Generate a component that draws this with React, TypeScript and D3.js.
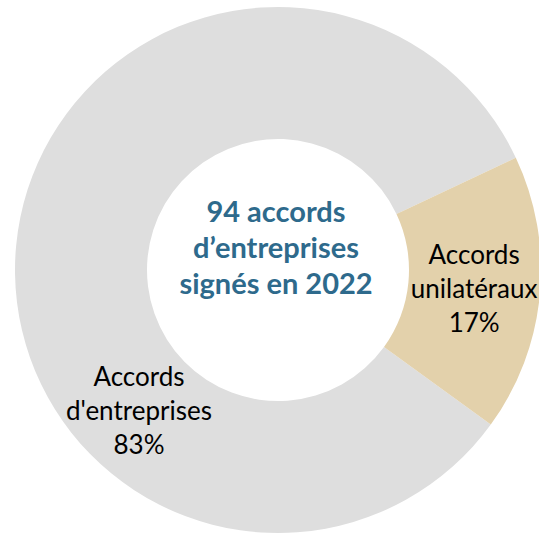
import React from "react";
import * as d3 from "d3";

const categories = ["Accords d'entreprises", "Accords unilatéraux"];
const values = [78, 16];
const percentLabels = ["83%", "17%"];
const labelLines = [["Accords", "d'entreprises", "83%"], ["Accords", "unilatéraux", "17%"]];
const centerLines = ["94 accords", "d’entreprises", "signés en 2022"];
const colors = ["#DEDEDE", "#E3D1AB"];

const W = 539;
const H = 533;
const cx = 278;
const cy = 270;
const outerR = 263;
const innerR = 131;
const startDeg = 126;

export default function App() {
  const pie = d3
    .pie<number>()
    .sort(null)
    .value((d) => d)
    .startAngle((startDeg * Math.PI) / 180)
    .endAngle(((startDeg + 360) * Math.PI) / 180);
  const arcs = pie(values);
  const arc = d3.arc<d3.PieArcDatum<number>>().innerRadius(innerR).outerRadius(outerR);

  const labelFont = "Lato, 'Open Sans', sans-serif";
  const lineH = 34;
  const uniC = arc.centroid(arcs[1]);
  const labelPos: [number, number][] = [
    [139 - cx, 420 - cy - 10],
    [uniC[0], uniC[1]],
  ];

  return (
    <svg
      width={W}
      height={H}
      style={{ position: "absolute", left: 0, top: 0, display: "block" }}
    >
      <rect width={W} height={H} fill="#ffffff" />
      <g transform={`translate(${cx},${cy})`}>
        {arcs.map((a, i) => (
          <path key={categories[i]} d={arc(a) || ""} fill={colors[i]} />
        ))}
        {labelLines.map((lines, i) => (
          <text
            key={percentLabels[i]}
            textAnchor="middle"
            fontFamily={labelFont}
            fontSize={26}
            fill="#000000"
          >
            {lines.map((t, j) => (
              <tspan key={j} x={labelPos[i][0]} y={labelPos[i][1] + 10 + (j - 1) * lineH}>
                {t}
              </tspan>
            ))}
          </text>
        ))}
        <text
          textAnchor="middle"
          fontFamily={labelFont}
          fontWeight={700}
          fontSize={29}
          fill="#2E6A8C"
        >
          {centerLines.map((t, j) => (
            <tspan key={j} x={-2} y={-12 + (j - 1) * 36}>
              {t}
            </tspan>
          ))}
        </text>
      </g>
    </svg>
  );
}
